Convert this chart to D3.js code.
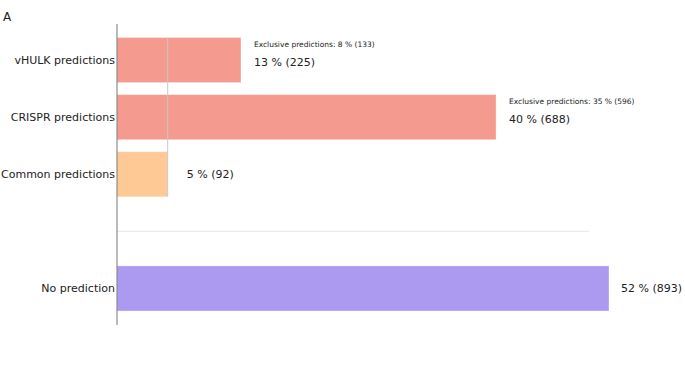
<!DOCTYPE html>
<html><head><meta charset="utf-8">
<script src="https://cdn.jsdelivr.net/npm/d3@7"></script>
<style>body{margin:0;background:#fff}svg{font-family:"DejaVu Sans",sans-serif}</style>
</head><body><svg id="c" width="685" height="383"></svg>
<script>
const categories = ["vHULK predictions", "CRISPR predictions", "Common predictions", "", "No prediction"];
const counts = [225, 688, 92, null, 893];
const percents = [13, 40, 5, null, 52];
const exclusiveCounts = [133, 596, null, null, null];
const exclusivePercents = [8, 35, null, null, null];
const total = 1714;
const colors = ["#f49a8f", "#f49a8f", "#fec995", null, "#ab9af0"];
const panelLabel = "A";

const svg = d3.select("#c");
const x = d3.scaleLinear().domain([0, 893]).range([117, 609]);
const y = d3.scaleBand().domain(d3.range(categories.length)).range([31.5, 317]).paddingInner(0.21).paddingOuter(0.105);

svg.append("text").attr("x", 3).attr("y", 21).attr("font-size", 12).attr("fill", "#222").text(panelLabel);

const idx = d3.range(categories.length).filter(i => counts[i] != null);

svg.selectAll("rect.bar").data(idx).join("rect")
  .attr("class", "bar")
  .attr("x", x(0)).attr("y", i => y(i))
  .attr("width", i => x(counts[i]) - x(0)).attr("height", y.bandwidth())
  .attr("fill", i => colors[i])
  .attr("stroke", "#fff").attr("stroke-opacity", 0.35).attr("stroke-width", 1);

// common overlap line
svg.append("line")
  .attr("x1", x(counts[2])).attr("x2", x(counts[2]))
  .attr("y1", y(0)).attr("y2", y(2) + y.bandwidth())
  .attr("stroke", "#c8c8c8").attr("stroke-width", 1);

// separator
svg.append("line")
  .attr("x1", x(0)).attr("x2", x(total * 0.5))
  .attr("y1", y(3) + y.bandwidth() / 2).attr("y2", y(3) + y.bandwidth() / 2)
  .attr("stroke", "#ebebeb").attr("stroke-width", 1.2);

// axis
const yAxis = d3.axisLeft(y).tickSize(0).tickPadding(2).tickFormat(i => categories[i]);
const g = svg.append("g").attr("transform", `translate(${x(0)},0)`).call(yAxis);
g.select(".domain").remove();
g.selectAll("text").attr("font-size", 11).attr("fill", "#222").attr("font-family", "DejaVu Sans");
svg.append("line").attr("x1", x(0)).attr("x2", x(0)).attr("y1", 24).attr("y2", 325)
  .attr("stroke", "#777").attr("stroke-width", 1);

// value labels
idx.forEach(i => {
  const cy = y(i) + y.bandwidth() / 2;
  if (exclusiveCounts[i] != null) {
    const lx = x(counts[i]) + 13;
    svg.append("text").attr("x", lx).attr("y", cy - 13).attr("font-size", 7.5).attr("fill", "#222")
      .text(`Exclusive predictions: ${exclusivePercents[i]} % (${exclusiveCounts[i]})`);
    svg.append("text").attr("x", lx).attr("y", cy + 6).attr("font-size", 11).attr("fill", "#222")
      .text(`${percents[i]} % (${counts[i]})`);
  } else {
    const lx = i === 2 ? x(counts[i]) + 19 : x(counts[i]) + 12;
    svg.append("text").attr("x", lx).attr("y", cy + 4).attr("font-size", 11).attr("fill", "#222")
      .text(`${percents[i]} % (${counts[i]})`);
  }
});
</script></body></html>
